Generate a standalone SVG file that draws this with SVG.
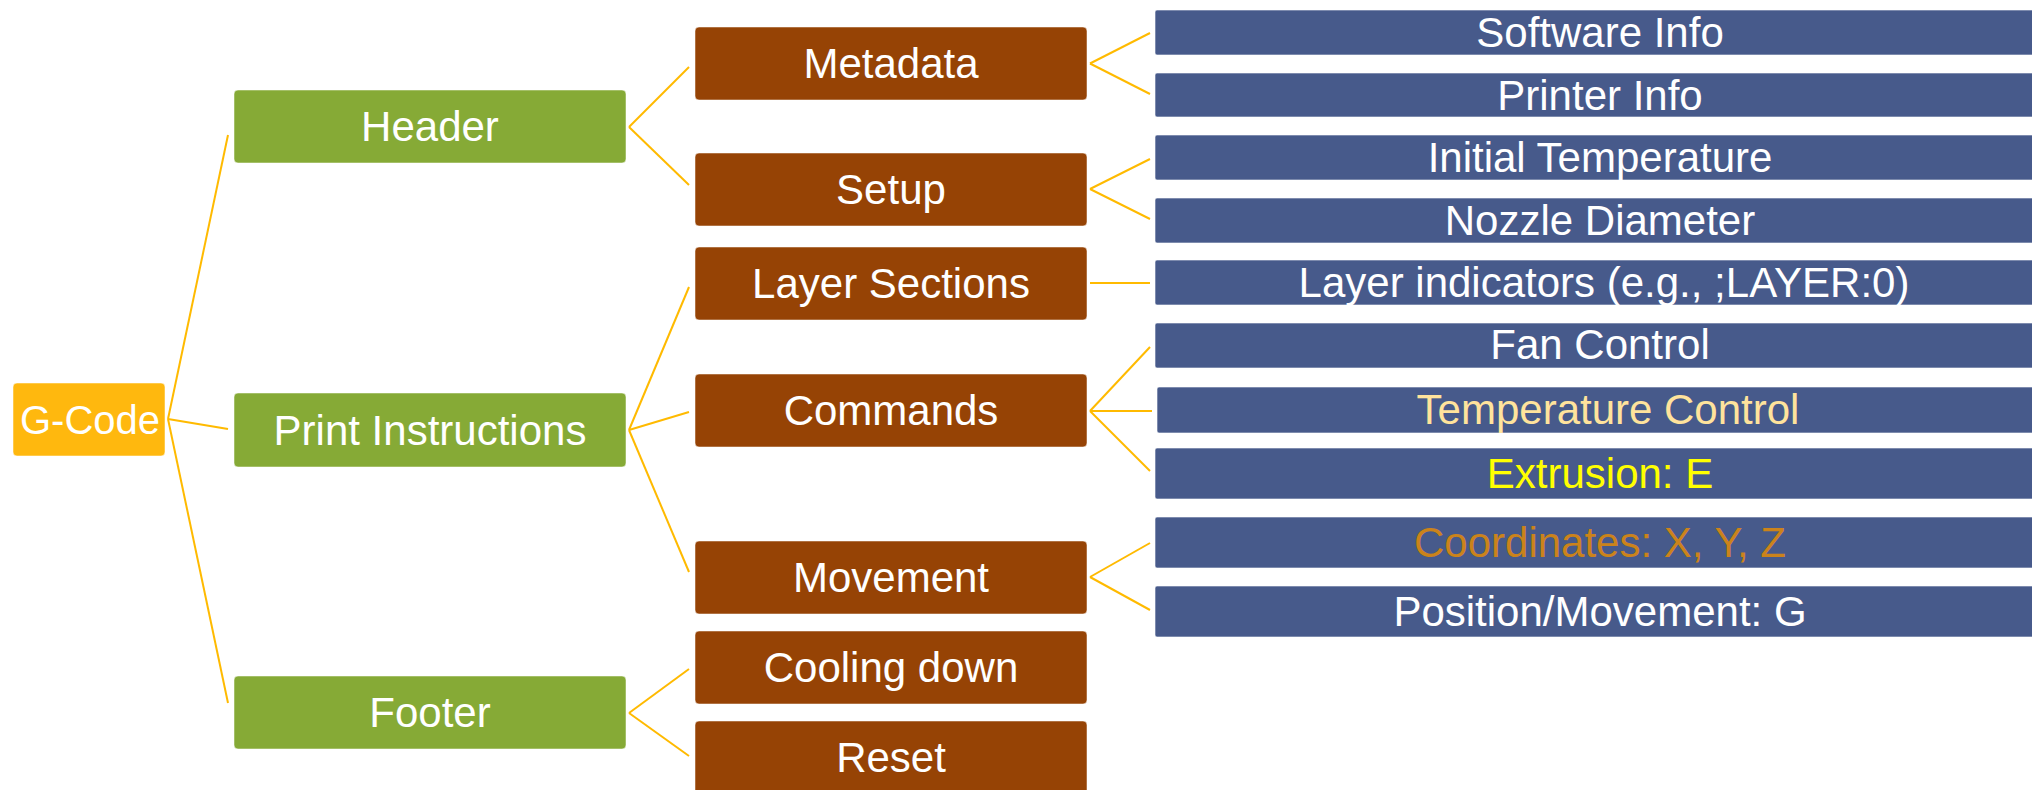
<svg xmlns="http://www.w3.org/2000/svg" width="2032" height="790" viewBox="0 0 2032 790">
<style>
.root{fill:#FFB80E;stroke:#ffffff;stroke-opacity:0.5;stroke-width:1}
.l1{fill:#86AA36;stroke:#ffffff;stroke-opacity:0.5;stroke-width:1}
.l2{fill:#964305;stroke:#ffffff;stroke-opacity:0.5;stroke-width:1}
.l3{fill:#475A8B;stroke:#ffffff;stroke-opacity:0.6;stroke-width:1}
text{font-family:"Liberation Sans",Arial,sans-serif;font-size:42px;fill:#ffffff;text-anchor:middle}
.conn line{stroke:#FFBA00;stroke-width:2;fill:none}
</style>
<g class="conn" id="connectors">
<line x1="168" y1="419" x2="228" y2="135"/>
<line x1="168" y1="419" x2="228" y2="429"/>
<line x1="168" y1="419" x2="228" y2="703"/>
<line x1="629" y1="127" x2="689" y2="67"/>
<line x1="629" y1="127" x2="689" y2="185"/>
<line x1="629" y1="430" x2="689" y2="287"/>
<line x1="629" y1="430" x2="689" y2="412"/>
<line x1="629" y1="430" x2="689" y2="572"/>
<line x1="629" y1="713" x2="689" y2="669"/>
<line x1="629" y1="713" x2="689" y2="756"/>
<line x1="1090" y1="63.5" x2="1150" y2="33"/>
<line x1="1090" y1="63.5" x2="1150" y2="94"/>
<line x1="1090" y1="189" x2="1150" y2="159"/>
<line x1="1090" y1="189" x2="1150" y2="219"/>
<line x1="1090" y1="283" x2="1150" y2="283"/>
<line x1="1090" y1="411" x2="1150" y2="347"/>
<line x1="1090" y1="411" x2="1152" y2="411"/>
<line x1="1090" y1="411" x2="1150" y2="471"/>
<line x1="1090" y1="577" x2="1150" y2="543"/>
<line x1="1090" y1="577" x2="1150" y2="610"/>
</g>
<g id="gcode"><rect class="root" x="13" y="383" width="152" height="73" rx="4"/><text x="90" y="434" style="font-size:40px">G-Code</text></g>
<g id="header"><rect class="l1" x="234" y="90" width="392" height="73" rx="4"/><text x="430" y="141">Header</text></g>
<g id="print-instructions"><rect class="l1" x="234" y="393" width="392" height="74" rx="4"/><text x="430" y="445">Print Instructions</text></g>
<g id="footer"><rect class="l1" x="234" y="676" width="392" height="73" rx="4"/><text x="430" y="727">Footer</text></g>
<g id="metadata"><rect class="l2" x="695" y="27" width="392" height="73" rx="4"/><text x="891" y="78">Metadata</text></g>
<g id="setup"><rect class="l2" x="695" y="153" width="392" height="73" rx="4"/><text x="891" y="204">Setup</text></g>
<g id="layer-sections"><rect class="l2" x="695" y="247" width="392" height="73" rx="4"/><text x="891" y="298">Layer Sections</text></g>
<g id="commands"><rect class="l2" x="695" y="374" width="392" height="73" rx="4"/><text x="891" y="425">Commands</text></g>
<g id="movement"><rect class="l2" x="695" y="541" width="392" height="73" rx="4"/><text x="891" y="592">Movement</text></g>
<g id="cooling-down"><rect class="l2" x="695" y="631" width="392" height="73" rx="4"/><text x="891" y="682">Cooling down</text></g>
<g id="reset"><rect class="l2" x="695" y="721" width="392" height="80" rx="4"/><text x="891" y="772">Reset</text></g>
<g id="software-info"><rect class="l3" x="1155" y="10" width="900" height="45" rx="2"/><text x="1600" y="47">Software Info</text></g>
<g id="printer-info"><rect class="l3" x="1155" y="73" width="900" height="44" rx="2"/><text x="1600" y="110">Printer Info</text></g>
<g id="initial-temperature"><rect class="l3" x="1155" y="135" width="900" height="45" rx="2"/><text x="1600" y="172">Initial Temperature</text></g>
<g id="nozzle-diameter"><rect class="l3" x="1155" y="198" width="900" height="45" rx="2"/><text x="1600" y="235">Nozzle Diameter</text></g>
<g id="layer-indicators"><rect class="l3" x="1155" y="260" width="900" height="45" rx="2"/><text x="1604" y="297">Layer indicators (e.g., ;LAYER:0)</text></g>
<g id="fan-control"><rect class="l3" x="1155" y="323" width="900" height="45" rx="2"/><text x="1600" y="359">Fan Control</text></g>
<g id="temperature-control"><rect class="l3" x="1157" y="387" width="900" height="46" rx="2"/><text x="1608" y="424" style="fill:#FFE39C">Temperature Control</text></g>
<g id="extrusion"><rect class="l3" x="1155" y="448" width="900" height="51" rx="2"/><text x="1600" y="488" style="fill:#FFFF00">Extrusion: E</text></g>
<g id="coordinates"><rect class="l3" x="1155" y="517" width="900" height="51" rx="2"/><text x="1600" y="557" style="fill:#CB831B">Coordinates: X, Y, Z</text></g>
<g id="position-movement"><rect class="l3" x="1155" y="586" width="900" height="51" rx="2"/><text x="1600" y="626">Position/Movement: G</text></g>
</svg>
